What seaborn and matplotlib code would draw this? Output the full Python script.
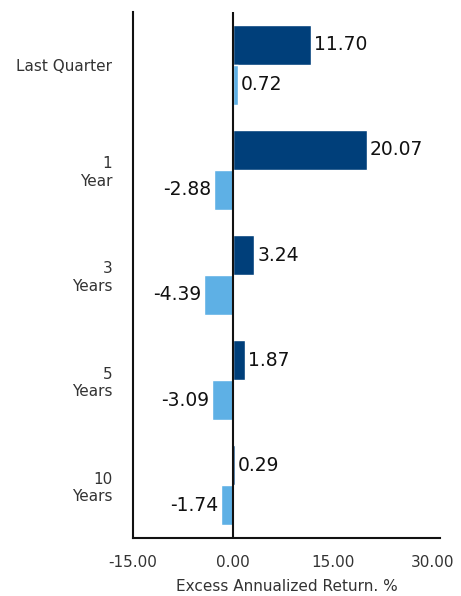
import matplotlib
matplotlib.use("Agg")
import matplotlib.pyplot as plt
import seaborn as sns
import pandas as pd

# periods and excess returns
periods = ["Last Quarter", "1\nYear", "3\nYears", "5\nYears", "10\nYears"]
series_names = ["Series 1", "Series 2"]
series_1 = [11.70, 20.07, 3.24, 1.87, 0.29]
series_2 = [0.72, -2.88, -4.39, -3.09, -1.74]
x_ticks = [-15, 0, 15, 30]

df = pd.DataFrame({
    "period": periods * 2,
    "series": [series_names[0]] * len(periods) + [series_names[1]] * len(periods),
    "value": series_1 + series_2,
})

sns.set_style("white")
plt.rcParams["font.family"] = ["DejaVu Sans"]

fig = plt.figure(figsize=(4.61, 5.96), dpi=100)
ax = fig.add_axes([0.2885, 0.0973, 0.666, 0.8826])

sns.barplot(
    data=df, y="period", x="value", hue="series", order=periods,
    hue_order=series_names, palette=["#003f7a", "#5eb0e5"], saturation=1,
    width=0.76, orient="h", legend=False, ax=ax,
)

for cont in ax.containers:
    ax.bar_label(cont, fmt="%.2f", padding=2, fontsize=13.5, color="#111111")

ax.axvline(0, color="#111111", lw=1.5, zorder=3)
ax.set_xlim(-15, 31.1)
ax.set_xticks(x_ticks)
ax.set_xticklabels([f"{t:.2f}" for t in x_ticks], fontsize=11, color="#333333")
ax.tick_params(axis="y", labelsize=11, labelcolor="#333333", length=0, pad=15)
ax.tick_params(axis="x", length=0, pad=12)
for lbl in ax.get_yticklabels():
    lbl.set_horizontalalignment("right")
    lbl.set_multialignment("right")

ax.set_ylabel("")
ax.set_xlabel("Excess Annualized Return. %", fontsize=11, color="#333333", labelpad=7)

sns.despine(ax=ax, top=True, right=True)
for side in ["left", "bottom"]:
    ax.spines[side].set_color("#111111")
    ax.spines[side].set_linewidth(1.5)

fig.savefig("out.png", dpi=100)
